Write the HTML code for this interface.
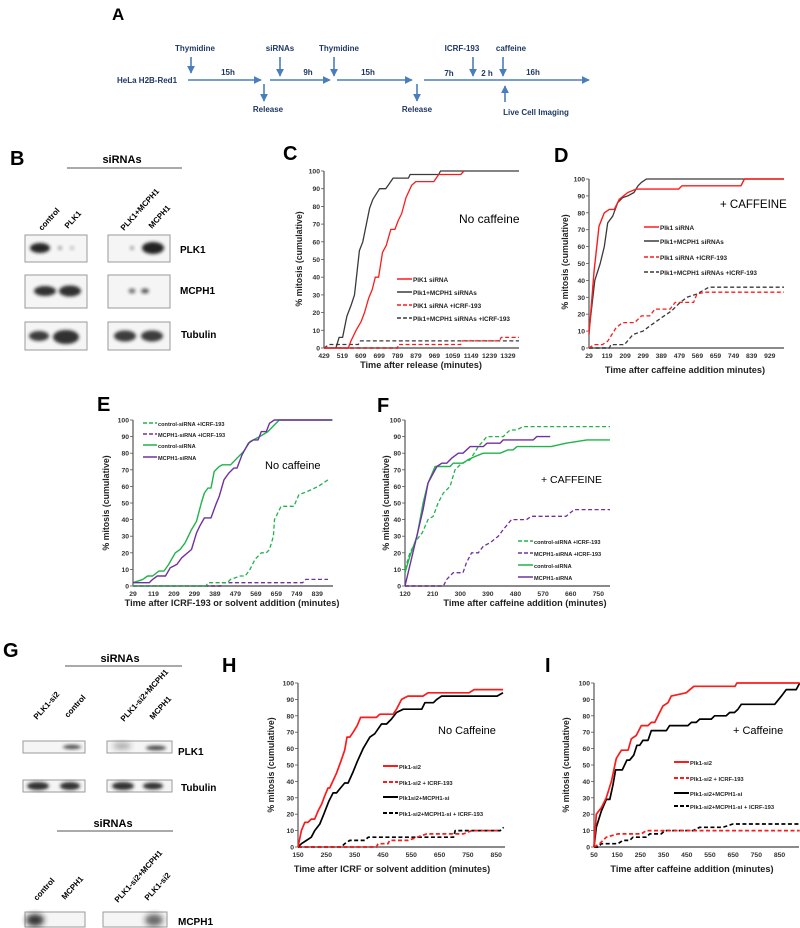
<!DOCTYPE html>
<html><head><meta charset="utf-8">
<style>
html,body{margin:0;padding:0;background:#fff;}
svg{display:block;font-family:"Liberation Sans",sans-serif;}
.t{font-weight:bold;}
</style></head>
<body>
<svg id="fig" width="800" height="928" viewBox="0 0 800 928" xmlns="http://www.w3.org/2000/svg">
<defs>
<filter id="blur1" x="-50%" y="-50%" width="200%" height="200%"><feGaussianBlur stdDeviation="1.6"/></filter>
<filter id="blur2" x="-50%" y="-50%" width="200%" height="200%"><feGaussianBlur stdDeviation="3"/></filter>
<marker id="ah" viewBox="0 0 10 10" refX="9" refY="5" markerWidth="5" markerHeight="5" orient="auto"><path d="M0,0 L10,5 L0,10 z" fill="#4a7ebb"/></marker>
</defs>
<!-- Panel letters -->
<g class="t" font-size="20" fill="#000">
<text x="112" y="20" font-size="17">A</text>
<text x="10" y="165">B</text>
<text x="283" y="160">C</text>
<text x="554" y="162">D</text>
<text x="97" y="411">E</text>
<text x="377" y="412">F</text>
<text x="3" y="657">G</text>
<text x="222" y="672">H</text>
<text x="545" y="672">I</text>
</g>
<!-- Panel A timeline -->
<g id="timeline" fill="#1f3864" font-size="8" class="t" stroke-linecap="butt">
<text x="117" y="83">HeLa H2B-Red1</text>
<g stroke="#4a7ebb" stroke-width="1.6" fill="none" marker-end="url(#ah)">
<line x1="188" y1="80" x2="261" y2="80"/>
<line x1="270" y1="80" x2="330" y2="80"/>
<line x1="337" y1="80" x2="412" y2="80"/>
<line x1="424" y1="80" x2="589" y2="80"/>
<line x1="191" y1="57" x2="191" y2="73"/>
<line x1="280" y1="57" x2="280" y2="76"/>
<line x1="334" y1="57" x2="334" y2="76"/>
<line x1="473" y1="57" x2="473" y2="76"/>
<line x1="503" y1="57" x2="503" y2="76"/>
<line x1="264" y1="84" x2="264" y2="101"/>
<line x1="417" y1="84" x2="417" y2="101"/>
<line x1="505" y1="102" x2="505" y2="86"/>
</g>
<text x="195" y="51" text-anchor="middle">Thymidine</text>
<text x="280" y="51" text-anchor="middle">siRNAs</text>
<text x="339" y="51" text-anchor="middle">Thymidine</text>
<text x="462" y="51" text-anchor="middle">ICRF-193</text>
<text x="511" y="51" text-anchor="middle">caffeine</text>
<text x="228" y="75" text-anchor="middle">15h</text>
<text x="308" y="75" text-anchor="middle">9h</text>
<text x="368" y="75" text-anchor="middle">15h</text>
<text x="449" y="76" text-anchor="middle">7h</text>
<text x="487" y="76" text-anchor="middle">2 h</text>
<text x="533" y="75" text-anchor="middle">16h</text>
<text x="268" y="112" text-anchor="middle">Release</text>
<text x="417" y="112" text-anchor="middle">Release</text>
<text x="536" y="115" text-anchor="middle">Live Cell Imaging</text>
</g>
<g id="blots"></g>
<g id="charts"></g>
</svg>
<script>
// ---------------- Chart data (minutes, % mitosis) ----------------
// Panel C
const cTicks = [429,519,609,699,789,879,969,1059,1149,1239,1329];
const cBlackX = [487,503,520,541,561,578,602,619,652,668,701,731,743,767,842,850,990,999,1383];
const cBlackY = [0,6,6,18,24,30,55,60,79,84,90,90,92,96,96,98,98,100,100];
const cRedX = [429,548,561,586,611,627,647,665,680,696,715,734,756,776,792,809,830,858,878,966,990,1098,1114];
const cRedY = [0,0,4,10,15,20,28,33,40,40,54,58,67,67,72,76,85,92,94,94,98,98,100];
const cRedDashX = [429,789,792,1098,1106,1287,1296,1383];
const cRedDashY = [0,0,2,2,4,4,6,6];
const cBlackDashX = [429,454,597,607,1383];
const cBlackDashY = [0,2,2,4,4];
// Panel D
const dTicks = [29,119,209,299,389,479,569,659,749,839,929];
const dRedX = [29,54,79,105,130,155,180,222,264,475,492,786,803,1000];
const dRedY = [8,45,72,80,82,82,88,92,94,94,96,96,100,100];
const dBlackX = [29,58,85,105,122,147,172,197,222,253,273,290,315,1000];
const dBlackY = [10,40,50,60,74,78,86,89,90,92,96,98,100,100];
const dRedDashX = [29,54,96,122,164,197,256,290,332,357,433,458,550,567,609,1000];
const dRedDashY = [0,2,2,4,12,15,15,19,19,23,23,27,27,32,33,33];
const dBlackDashX = [29,130,138,206,248,298,332,391,441,483,517,567,626,1000];
const dBlackDashY = [0,0,2,2,8,10,13,18,22,27,30,32,36,36];
// Panel E
const eTicks = [29,119,209,299,389,479,569,659,749,839];
const eGreenX = [29,72,93,115,143,165,186,215,236,258,286,308,329,343,358,372,386,408,422,458,479,515,543,586,622,643,672,905];
const eGreenY = [2,4,6,6,9,9,13,20,22,26,34,39,50,56,59,59,69,72,73,73,76,81,87,90,93,96,100,100];
const ePurpleX = [29,100,115,136,172,193,222,243,286,308,322,343,372,393,408,429,450,472,486,508,536,558,579,593,615,629,650,905];
const ePurpleY = [2,2,4,6,6,11,13,17,22,32,36,41,41,49,54,64,68,71,71,79,86,88,88,93,93,98,100,100];
const eGreenDashX = [29,350,358,443,458,500,522,543,565,593,615,629,646,651,680,736,758,796,843,886];
const eGreenDashY = [0,0,2,2,4,6,6,10,16,20,20,22,30,40,48,48,55,57,60,64];
const ePurpleDashX = [29,415,422,775,788,886];
const ePurpleDashY = [0,0,2,2,4,4];
// Panel F
const fTicks = [120,210,300,390,480,570,660,750];
const fGreenX = [120,136,159,179,195,218,267,277,309,325,348,375,430,456,472,485,596,645,713,788];
const fGreenY = [8,18,30,50,62,72,72,74,74,76,78,80,80,82,82,84,84,86,88,88];
const fPurpleX = [120,179,195,224,240,256,272,294,309,332,375,387,430,440,538,549,593];
const fPurpleY = [0,46,62,72,74,74,77,80,80,84,84,86,86,88,88,90,90];
const fGreenDashX = [120,136,159,176,195,212,228,245,267,283,305,332,359,387,440,462,483,505,788];
const fGreenDashY = [10,20,28,32,40,42,50,56,60,70,74,76,84,90,90,94,94,96,96];
const fPurpleDashX = [120,245,256,277,309,320,337,359,375,397,424,440,467,516,532,645,671,788];
const fPurpleDashY = [0,0,4,8,8,14,20,20,24,26,30,34,40,40,42,42,46,46];
// Panel H
const hTicks = [150,250,350,450,550,650,750,850];
const hRedX = [150,162,174,185,197,209,221,233,244,256,262,286,303,315,323,333,345,359,371,427,439,486,498,516,538,591,609,754,772,874];
const hRedY = [0,10,15,15,17,17,22,26,31,36,36,45,53,59,67,67,70,74,79,79,81,81,84,90,92,92,94,94,96,96];
const hBlackX = [150,162,180,197,209,227,241,259,274,286,300,315,327,345,359,380,404,421,445,463,480,498,522,587,598,628,640,657,683,853,874];
const hBlackY = [0,2,4,6,10,14,20,28,33,33,36,39,39,46,52,60,67,69,75,75,78,82,84,84,88,88,90,92,92,92,94];
const hRedDashX = [150,427,433,468,474,539,604,734,764,864];
const hRedDashY = [0,0,2,2,4,4,8,8,10,10];
const hBlackDashX = [150,303,315,333,386,398,699,705,864,876];
const hBlackDashY = [0,0,2,4,4,6,6,10,10,12];
// Panel I
const iTicks = [50,150,250,350,450,550,650,750,850];
const iRedX = [50,60,82,103,125,146,168,197,211,232,254,283,297,312,326,347,369,383,447,481,658,666,937];
const iRedY = [0,20,24,30,40,54,59,59,66,68,74,74,76,76,80,86,88,92,94,98,98,100,100];
const iBlackX = [50,60,82,103,118,132,143,172,192,204,221,235,247,261,283,297,362,376,455,470,491,506,556,570,620,635,656,671,685,829,858,879,922,937];
const iBlackY = [0,12,22,29,29,38,47,47,53,53,56,62,62,65,65,71,71,74,74,76,76,78,78,80,80,82,82,84,87,87,92,96,96,100];
const iRedDashX = [50,74,103,153,254,276,937];
const iRedDashY = [0,2,6,8,8,10,10];
const iBlackDashX = [50,67,82,153,175,204,218,276,290,340,355,477,506,606,649,937];
const iBlackDashY = [0,0,2,2,4,4,6,6,8,8,10,10,12,12,14,14];
const yTicks = [0,10,20,30,40,50,60,70,80,90,100];

// ---------------- Helpers ----------------
const NS = 'http://www.w3.org/2000/svg';
const chartsG = document.getElementById('charts');
function mk(tag, attrs, parent){
  const el = document.createElementNS(NS, tag);
  for (const k in attrs) el.setAttribute(k, attrs[k]);
  (parent||chartsG).appendChild(el);
  return el;
}
function makeChart(id, box){
  const g = mk('g', {id: id});
  
  
  const xs = v => box.left + (v - box.xmin) / (box.xmax - box.xmin) * (box.right - box.left);
  const ys = v => box.y0 - v / 100 * (box.y0 - box.y100);
  // y axis
  const ya = mk('line', {x1: box.left, y1: box.y100, x2: box.left, y2: box.y0, stroke: '#555', 'stroke-width': 1.2}, g);
  
  
  const xa = mk('line', {x1: box.left, y1: box.y0, x2: box.right, y2: box.y0, stroke: '#8a8a8a', 'stroke-width': 2}, g);
  
  
  yTicks.forEach(v => {
    const y = ys(v);
    mk('line', {x1: box.left - 3, y1: y, x2: box.left, y2: y, stroke: '#555', 'stroke-width': 0.8}, g);
    const t = mk('text', {x: box.left - 4, y: y + 2.5, 'text-anchor': 'end', 'font-size': 6.8, 'font-weight': 'bold', fill: '#333'}, g);
    t.textContent = v;
    
    
  });
  box.ticks.forEach(v => {
    const x = xs(v);
    const t = mk('text', {x: x, y: box.y0 + 10, 'text-anchor': 'middle', 'font-size': 6.8, 'font-weight': 'bold', fill: '#333'}, g);
    t.textContent = v;
    
    
  });
  const xt = mk('text', {x: box.xtX, y: box.xtY, 'text-anchor': 'middle', 'font-size': 9.2, 'font-weight': 'bold', fill: '#222'}, g);
  xt.textContent = box.xtitle;
  
  
  const yt = mk('text', {x: 0, y: 0, transform: 'translate(' + box.ytX + ',' + box.ytY + ') rotate(-90)', 'text-anchor': 'middle', 'font-size': 8.8, 'font-weight': 'bold', fill: '#222'}, g);
  yt.textContent = '% mitosis (cumulative)';
  
  
  const nt = mk('text', {x: box.noteX, y: box.noteY, 'font-size': box.noteSize, fill: '#000'}, g);
  nt.textContent = box.note;
  
  
  return {g, xs, ys};
}
function addSeries(ch, xsArr, ysArr, color, dashed, width, name){
  const pts = xsArr.map((v, i) => ch.xs(v).toFixed(1) + ',' + ch.ys(ysArr[i]).toFixed(1)).join(' ');
  const p = mk('polyline', {points: pts, fill: 'none', stroke: color, 'stroke-width': width, 'stroke-dasharray': dashed ? '4,2.5' : 'none', 'stroke-linejoin': 'round'}, ch.g);
  
  
}
function addLegend(ch, x, ys, items, lw, fs){
  items.forEach((it, i) => {
    const y = ys[i];
    const l = mk('line', {x1: x, y1: y, x2: x + lw, y2: y, stroke: it[1], 'stroke-width': it[3], 'stroke-dasharray': it[2] ? '4,2' : 'none'}, ch.g);
    
    
    const t = mk('text', {x: x + lw + 1, y: y + 3, 'font-size': fs, 'font-weight': 'bold', fill: '#222'}, ch.g);
    t.textContent = it[0];
    
    
  });
}
const RED = '#ff1a1a', DK = '#3a3a3a', BK = '#000', GR = '#1fb34a', PU = '#7030a0';

// C
const C = makeChart('chart-c', {left:324,right:519,xmin:429,xmax:1383,y0:348,y100:171,ticks:cTicks,xtitle:'Time after release (minutes)',xtX:421,xtY:368,ytX:302,ytY:259,note:'No caffeine',noteX:459,noteY:223,noteSize:12});
addSeries(C, cBlackDashX, cBlackDashY, DK, true, 1.3, 'series-plk1-mcph1-icrf');
addSeries(C, cRedDashX, cRedDashY, RED, true, 1.3, 'series-plk1-icrf');
addSeries(C, cBlackX, cBlackY, DK, false, 1.3, 'series-plk1-mcph1');
addSeries(C, cRedX, cRedY, RED, false, 1.3, 'series-plk1');
addLegend(C, 397, [279,292,305,318], [['PlK1 siRNA',RED,false,1.5],['Plk1+MCPH1 siRNAs',DK,false,1.5],['PlK1 siRNA +ICRF-193',RED,true,1.5],['Plk1+MCPH1 siRNAs +ICRF-193',DK,true,1.5]], 15, 6.4);
// D
const D = makeChart('chart-d', {left:589,right:784,xmin:29,xmax:1000,y0:348,y100:179,ticks:dTicks,xtitle:'Time after caffeine addition minutes)',xtX:685,xtY:373,ytX:568,ytY:262,note:'+ CAFFEINE',noteX:720,noteY:208,noteSize:11.5});
addSeries(D, dBlackDashX, dBlackDashY, DK, true, 1.3, 'series-plk1-mcph1-icrf');
addSeries(D, dRedDashX, dRedDashY, RED, true, 1.3, 'series-plk1-icrf');
addSeries(D, dBlackX, dBlackY, DK, false, 1.3, 'series-plk1-mcph1');
addSeries(D, dRedX, dRedY, RED, false, 1.4, 'series-plk1');
addLegend(D, 644, [227,241,257,272], [['Plk1 siRNA',RED,false,1.5],['Plk1+MCPH1 siRNAs',DK,false,1.5],['Plk1 siRNA +ICRF-193',RED,true,1.5],['Plk1+MCPH1 siRNAs +ICRF-193',DK,true,1.5]], 15, 6.4);
// E
const E = makeChart('chart-e', {left:133,right:333,xmin:29,xmax:908,y0:586,y100:420,ticks:eTicks,xtitle:'Time after ICRF-193 or solvent addition (minutes)',xtX:232,xtY:606,ytX:109,ytY:503,note:'No caffeine',noteX:265,noteY:469,noteSize:11});
addSeries(E, ePurpleDashX, ePurpleDashY, PU, true, 1.3, 'series-mcph1-icrf');
addSeries(E, eGreenDashX, eGreenDashY, GR, true, 1.3, 'series-control-icrf');
addSeries(E, eGreenX, eGreenY, GR, false, 1.4, 'series-control');
addSeries(E, ePurpleX, ePurpleY, PU, false, 1.4, 'series-mcph1');
addLegend(E, 143, [423,434,445,457], [['control-siRNA +ICRF-193',GR,true,1.5],['MCPH1-siRNA +ICRF-193',PU,true,1.5],['control-siRNA',GR,false,1.5],['MCPH1-siRNA',PU,false,1.5]], 14, 5.6);
// F
const F = makeChart('chart-f', {left:405,right:610,xmin:120,xmax:788,y0:586,y100:420,ticks:fTicks,xtitle:'Time after caffeine addition (minutes)',xtX:525,xtY:606,ytX:389,ytY:503,note:'+ CAFFEINE',noteX:541,noteY:483,noteSize:10.5});
addSeries(F, fPurpleDashX, fPurpleDashY, PU, true, 1.3, 'series-mcph1-icrf');
addSeries(F, fGreenDashX, fGreenDashY, GR, true, 1.3, 'series-control-icrf');
addSeries(F, fGreenX, fGreenY, GR, false, 1.4, 'series-control');
addSeries(F, fPurpleX, fPurpleY, PU, false, 1.4, 'series-mcph1');
addLegend(F, 518, [541,553,565,577], [['control-siRNA +ICRF-193',GR,true,1.5],['MCPH1-siRNA +ICRF-193',PU,true,1.5],['control-siRNA',GR,false,1.5],['MCPH1-siRNA',PU,false,1.5]], 15, 5.6);
// H
const H = makeChart('chart-h', {left:298,right:505,xmin:150,xmax:881,y0:847,y100:683,ticks:hTicks,xtitle:'Time after ICRF or solvent addition (minutes)',xtX:392,xtY:872,ytX:274,ytY:765,note:'No Caffeine',noteX:438,noteY:734,noteSize:11});
addSeries(H, hBlackDashX, hBlackDashY, BK, true, 1.7, 'series-plk1si2-mcph1-icrf');
addSeries(H, hRedDashX, hRedDashY, RED, true, 1.7, 'series-plk1si2-icrf');
addSeries(H, hBlackX, hBlackY, BK, false, 1.7, 'series-plk1si2-mcph1');
addSeries(H, hRedX, hRedY, RED, false, 1.7, 'series-plk1si2');
addLegend(H, 383, [766,782,797,813], [['Plk1-si2',RED,false,2],['Plk1-si2 + ICRF-193',RED,true,2],['Plk1si2+MCPH1-si',BK,false,2],['Plk1-si2+MCPH1-si + ICRF-193',BK,true,2]], 15, 5.8);
// I
const I = makeChart('chart-i', {left:594,right:799,xmin:50,xmax:934,y0:847,y100:683,ticks:iTicks,xtitle:'Time after caffeine addition (minutes)',xtX:692,xtY:872,ytX:569,ytY:765,note:'+ Caffeine',noteX:733,noteY:734,noteSize:11});
addSeries(I, iBlackDashX, iBlackDashY, BK, true, 1.7, 'series-plk1si2-mcph1-icrf');
addSeries(I, iRedDashX, iRedDashY, RED, true, 1.7, 'series-plk1si2-icrf');
addSeries(I, iBlackX, iBlackY, BK, false, 1.7, 'series-plk1si2-mcph1');
addSeries(I, iRedX, iRedY, RED, false, 1.7, 'series-plk1si2');
addLegend(I, 674, [762,778,793,806], [['Plk1-si2',RED,false,2],['Plk1-si2 + ICRF-193',RED,true,2],['Plk1-si2+MCPH1-si',BK,false,2],['Plk1-si2+MCPH1-si + ICRF-193',BK,true,2]], 15, 5.8);

// ---------------- Western blots ----------------
const blotG = document.getElementById('blots');
function bx(x, y, w, h, name){
  const r = mk('rect', {x: x, y: y, width: w, height: h, fill: '#f5f5f5', stroke: '#9a9a9a', 'stroke-width': 1}, blotG);
  
  
}
function band(cx, cy, rx, ry, op, f){
  const e = mk('ellipse', {cx: cx, cy: cy, rx: rx, ry: ry, fill: '#1a1a1a', opacity: op, filter: 'url(#' + (f||'blur1') + ')'}, blotG);
  
  
}
function txt(x, y, s, size, rot, anchor, name){
  const t = mk('text', {x: x, y: y, 'font-size': size, 'font-weight': 'bold', fill: '#000', 'text-anchor': anchor||'start'}, blotG);
  if (rot) t.setAttribute('transform', 'rotate(' + rot + ' ' + x + ' ' + y + ')');
  t.textContent = s;
  
  
}
function hline(x1, x2, y, name){
  const l = mk('line', {x1: x1, y1: y, x2: x2, y2: y, stroke: '#777', 'stroke-width': 1.2}, blotG);
  
  
}
// Panel B
txt(122, 163, 'siRNAs', 11, 0, 'middle', 'sirnas-header');
hline(67, 182, 168, 'sirnas-header-line');
txt(42, 231, 'control', 8, -48, 'start', 'lane-label');
txt(68, 229, 'PLK1', 8, -48, 'start', 'lane-label');
txt(124, 231, 'PLK1+MCPH1', 8, -48, 'start', 'lane-label');
txt(152, 229, 'MCPH1', 8, -48, 'start', 'lane-label');
[[235,27],[275,33],[322,28]].forEach(r => { bx(25, r[0], 62, r[1], 'blot-box'); bx(108, r[0], 62, r[1], 'blot-box'); });
band(40, 248, 10, 5, 0.95); band(60, 248, 2, 2, 0.4); band(72, 248, 2, 2, 0.25);
band(132, 248, 2, 2, 0.4); band(153, 248, 11, 6, 0.97);
band(45, 291, 11, 5, 0.9); band(70, 291, 11, 5.5, 0.9);
band(132, 291, 3.5, 2.5, 0.6); band(145, 291, 4, 2.5, 0.7);
band(39, 336, 10, 5, 0.85); band(66, 337, 13, 7, 0.9);
band(125, 336, 11, 5.5, 0.85); band(152, 336, 11, 5.5, 0.85);
txt(180, 253, 'PLK1', 10, 0, 'start', 'row-label-plk1');
txt(180, 294, 'MCPH1', 10, 0, 'start', 'row-label-mcph1');
txt(181, 338, 'Tubulin', 10, 0, 'start', 'row-label-tubulin');
// Panel G
txt(120, 662, 'siRNAs', 11, 0, 'middle', 'sirnas-header');
hline(65, 182, 666, 'sirnas-header-line');
txt(37, 720, 'PLK1-si2', 8, -48, 'start', 'lane-label');
txt(68, 718, 'control', 8, -48, 'start', 'lane-label');
txt(124, 722, 'PLK1-si2+MCPH1', 8, -48, 'start', 'lane-label');
txt(153, 720, 'MCPH1', 8, -48, 'start', 'lane-label');
bx(23, 741, 62, 12, 'blot-box'); bx(107, 741, 65, 12, 'blot-box');
bx(23, 780, 62, 12, 'blot-box'); bx(107, 780, 65, 12, 'blot-box');
band(72, 747, 9, 2.2, 0.75); band(122, 746, 9, 3.5, 0.35, 'blur2'); band(156, 748, 10, 2.5, 0.75);
band(38, 786, 11, 4, 0.9); band(70, 786, 10, 4, 0.9); band(123, 786, 11, 4, 0.9); band(153, 786, 10, 3.5, 0.9);
txt(178, 755, 'PLK1', 10, 0, 'start', 'row-label-plk1');
txt(181, 791, 'Tubulin', 10, 0, 'start', 'row-label-tubulin');
txt(113, 827, 'siRNAs', 11, 0, 'middle', 'sirnas-header');
hline(57, 173, 831, 'sirnas-header-line');
txt(37, 901, 'control', 8, -48, 'start', 'lane-label');
txt(65, 900, 'MCPH1', 8, -48, 'start', 'lane-label');
txt(118, 903, 'PLK1-si2+MCPH1', 8, -48, 'start', 'lane-label');
txt(148, 901, 'PLK1-si2', 8, -48, 'start', 'lane-label');
bx(25, 912, 60, 15, 'blot-box'); bx(103, 912, 64, 15, 'blot-box');
band(35, 920, 9, 6, 0.9, 'blur2'); band(154, 920, 9, 6, 0.65, 'blur2');
txt(178, 925, 'MCPH1', 10, 0, 'start', 'row-label-mcph1');
</script>
</body></html>
